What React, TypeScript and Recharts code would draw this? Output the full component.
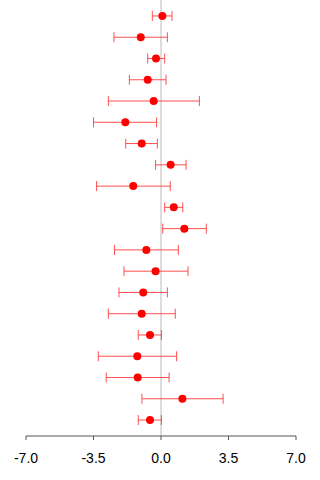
import React from "react";
import {
  ScatterChart,
  Scatter,
  XAxis,
  YAxis,
  ErrorBar,
  ReferenceLine,
} from "recharts";

// Study rows, top to bottom
const rows = [1, 2, 3, 4, 5, 6, 7, 8, 9, 10, 11, 12, 13, 14, 15, 16, 17, 18, 19, 20];

// Point estimates
const estimates = [
  0.07, -1.05, -0.26, -0.69, -0.38, -1.85, -1.0, 0.5, -1.44, 0.66,
  1.21, -0.76, -0.28, -0.92, -1.0, -0.57, -1.23, -1.21, 1.11, -0.57,
];

// Lower confidence limits
const lowerLimits = [
  -0.45, -2.44, -0.69, -1.64, -2.73, -3.5, -1.83, -0.28, -3.34, 0.19,
  0.09, -2.41, -1.92, -2.18, -2.73, -1.18, -3.25, -2.84, -0.99, -1.18,
];

// Upper confidence limits
const upperLimits = [
  0.57, 0.33, 0.19, 0.26, 1.99, -0.23, -0.19, 1.3, 0.48, 1.13,
  2.35, 0.9, 1.4, 0.33, 0.74, 0.02, 0.81, 0.42, 3.22, 0.02,
];

const xTicks = [-7, -3.5, 0, 3.5, 7];

const data = rows.map((row, i) => ({
  row,
  est: estimates[i],
  err: [estimates[i] - lowerLimits[i], upperLimits[i] - estimates[i]],
}));

const Dot = (props: any) => (
  <circle cx={props.cx} cy={props.cy} r={4} fill="#ff0000" />
);

export default function App() {
  return (
    <div style={{ position: "absolute", left: 0, top: 0 }}>
      <ScatterChart
        width={320}
        height={480}
        margin={{ top: 0, right: 24, bottom: 14, left: 26 }}
        style={{ fontFamily: "'Liberation Sans', Arial, sans-serif" }}
      >
        <XAxis
          type="number"
          dataKey="est"
          domain={[-7, 7]}
          ticks={xTicks}
          tickFormatter={(v: number) => v.toFixed(1)}
          height={30}
          tickSize={4}
          tickMargin={13}
          stroke="#555555"
          tick={{ fill: "#000000", fontSize: 14 }}
          allowDataOverflow
        />
        <YAxis
          type="number"
          dataKey="row"
          domain={[0.25, 20.75]}
          reversed
          hide
        />
        <ReferenceLine x={0} stroke="#dddddd" strokeWidth={2} />
        <Scatter data={data} shape={Dot} isAnimationActive={false}>
          <ErrorBar
            dataKey="err"
            direction="x"
            width={5}
            stroke="#ff3333"
            strokeOpacity={0.85}
            strokeWidth={1}
            isAnimationActive={false}
          />
        </Scatter>
      </ScatterChart>
    </div>
  );
}
